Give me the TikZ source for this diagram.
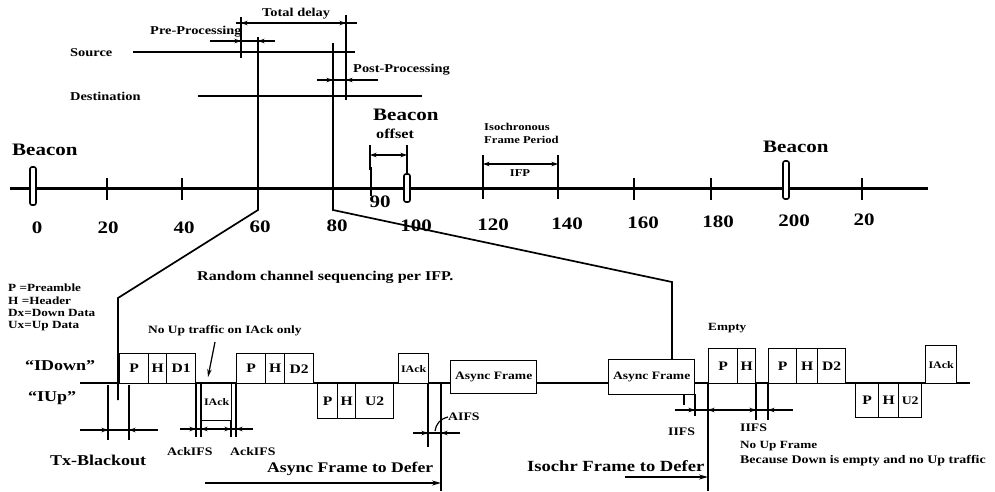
\documentclass[tikz,border=0pt]{standalone}
\usepackage{fontspec}
\setmainfont{Liberation Serif}[FakeStretch=1.2]
\usetikzlibrary{arrows.meta}
\newcommand{\fsz}[1]{\fontsize{#1}{#1}\selectfont}
\begin{document}
\begin{tikzpicture}[x=1pt,y=-1pt,
  txt/.style={inner sep=0pt, anchor=west, font=\bfseries\fsz{12}},
  num/.style={inner sep=0pt, font=\bfseries\fsz{17.5}},
  heavyline/.style={line width=2.4pt},
  medline/.style={line width=1.7pt},
  slim/.style={line width=1.2pt},
  dima/.style={line width=1.2pt, -{Stealth[length=6.5pt,width=4.5pt]}},
  dimb/.style={line width=1.2pt, {Stealth[length=6.5pt,width=4.5pt]}-{Stealth[length=6.5pt,width=4.5pt]}},
  defer/.style={line width=1.4pt, -{Stealth[open,length=9pt,width=5pt]}},
  cell/.style={draw, line width=1.4pt, fill=white, inner sep=0pt, anchor=north west, font=\bfseries\fsz{13}},
  smallcell/.style={cell, font=\bfseries\fsz{10}},
  asynccell/.style={cell, font=\bfseries\fsz{11.3}},
  beaconmark/.style={draw, line width=1.6pt, fill=white, rounded corners=2pt}
]
\useasboundingbox[fill=white] (0,0) rectangle (995,491);

% ---------------- top: delays ----------------
\draw[medline] (241,17) -- (241,58);
\draw[medline] (346,15) -- (346,100);
\draw[slim] (236,23) -- (357,23);
\draw[dimb] (241,23) -- (346,23);
\node[txt] (totaldelay) at (262,14) {Total delay};

\node[txt] (pre) at (150,32) {Pre-Processing};
\draw[slim] (210,41) -- (275,41);
\draw[dima] (214,41) -- (241,41);
\draw[dima] (275,41) -- (258,41);

\node[txt] (src) at (70,53) {Source};
\draw[heavyline] (133,52) -- (355,52);

\node[txt] (post) at (353,70) {Post-Processing};
\draw[slim] (317,80) -- (378,80);
\draw[dima] (317,80) -- (333,80);
\draw[dima] (368,80) -- (346,80);

\node[txt] (dst) at (70,96) {Destination};
\draw[heavyline] (198,96) -- (422,96);

% zoom connectors
\coordinate (zl1) at (258,210);
\coordinate (zl2) at (118,298);
\coordinate (zr1) at (333,210);
\coordinate (zr2) at (672,282);
\draw[medline] (258,37) -- (zl1) -- (zl2) -- (118,400);
\draw[medline] (333,43) -- (zr1) -- (zr2) -- (672,359);

% ---------------- timeline ----------------
\draw[line width=3pt] (10,188) -- (928,188);
\foreach \x in {107,182,634,711,862} \draw[medline] (\x,178) -- (\x,200);
\draw[medline] (483,155) -- (483,199);
\draw[medline] (558,155) -- (558,199);
\draw[dimb] (483,164) -- (558,164);
\node[inner sep=0pt, font=\bfseries\fsz{10.5}] (ifp) at (520,173) {IFP};
\node[txt, font=\bfseries\fsz{10.5}] (iso) at (484,127) {Isochronous};
\node[txt, font=\bfseries\fsz{10.5}] (fper) at (484,140) {Frame Period};

\draw[medline] (370,145) -- (370,170);
\draw[line width=2.8pt] (371,167) -- (371,196);
\draw[medline] (407,145) -- (407,176);
\draw[dimb] (370,155) -- (407,155);
\node[txt, font=\bfseries\fsz{17.5}] (bmid) at (373,115) {Beacon};
\node[txt, font=\bfseries\fsz{13.5}] (boff) at (376,134) {offset};

\draw[beaconmark] (30,167) rectangle (36,205);
\draw[beaconmark] (404,174) rectangle (410,202);
\draw[beaconmark] (783,161) rectangle (789,199);
\node[txt, font=\bfseries\fsz{17.5}] (bleft) at (12,150) {Beacon};
\node[txt, font=\bfseries\fsz{17.5}] (bright) at (763,147) {Beacon};

\node[num] (n0) at (37,228) {0};
\node[num] (n20) at (108,228) {20};
\node[num] (n40) at (184,228) {40};
\node[num] (n60) at (260,227) {60};
\node[num] (n80) at (337,226) {80};
\node[num] (n90) at (380,202) {90};
\node[num] (n100) at (416,226) {100};
\node[num] (n120) at (493,225) {120};
\node[num] (n140) at (567,224) {140};
\node[num] (n160) at (643,223) {160};
\node[num] (n180) at (718,222) {180};
\node[num] (n200) at (794,221) {200};
\node[num] (n20b) at (864,220) {20};

% ---------------- lower: channel detail ----------------
\node[txt, font=\bfseries\fsz{13.4}] (rcs) at (197,277) {Random channel sequencing per IFP.};
\node[txt, font=\bfseries\fsz{11}] (lg1) at (8,288) {P =Preamble};
\node[txt, font=\bfseries\fsz{11}] (lg2) at (8,301) {H =Header};
\node[txt, font=\bfseries\fsz{11}] (lg3) at (8,313) {Dx=Down Data};
\node[txt, font=\bfseries\fsz{11}] (lg4) at (8,326) {Ux=Up Data};

\node[txt, font=\bfseries\fsz{11.2}] (nout) at (148,331) {No Up traffic on IAck only};
\draw[slim, -{Stealth[open,length=8pt,width=4.5pt]}] (215,342) -- (208,377);

\node[txt, font=\bfseries\fsz{15}] (idown) at (25,366) {``IDown''};
\node[txt, font=\bfseries\fsz{15}] (iup) at (28,398) {``IUp''};

\draw[heavyline] (80,383) -- (970,383);

% timing verticals (behind boxes)
\draw[medline] (108,385) -- (108,440);
\draw[medline] (129,385) -- (129,440);
\draw[medline] (196,383) -- (196,437);
\draw[medline] (201,383) -- (201,437);
\draw[medline] (231,383) -- (231,437);
\draw[medline] (236,383) -- (236,437);
\draw[medline] (428,383) -- (428,447);
\draw[medline] (441,383) -- (441,491);
\draw[medline] (684,394) -- (684,405);
\draw[medline] (695,394) -- (695,416);
\draw[medline] (708,383) -- (708,491);
\draw[medline] (756,383) -- (756,420);
\draw[medline] (768,383) -- (768,420);

% IDown boxes
\node[cell, minimum width=29pt, minimum height=30pt] (p1) at (119,353) {P};
\node[cell, minimum width=18pt, minimum height=30pt] (h1) at (148,353) {H};
\node[cell, minimum width=29pt, minimum height=30pt] (d1) at (166,353) {D1};
\node[cell, minimum width=29pt, minimum height=30pt] (p2) at (236,353) {P};
\node[cell, minimum width=19pt, minimum height=30pt] (h2) at (265,353) {H};
\node[cell, minimum width=29pt, minimum height=30pt] (d2) at (284,353) {D2};
\node[smallcell, minimum width=30pt, minimum height=30pt] (iack1) at (398,353) {IAck};
\node[asynccell, minimum width=86pt, minimum height=33pt] (as1) at (450,360) {Async Frame};
\node[asynccell, minimum width=86pt, minimum height=35pt] (as2) at (608,359) {Async Frame};
\node[cell, minimum width=29pt, minimum height=35pt] (pe) at (708,348) {P};
\node[cell, minimum width=18pt, minimum height=35pt] (he) at (737,348) {H};
\node[txt, font=\bfseries\fsz{11}] (empty) at (708,328) {Empty};
\node[cell, minimum width=28pt, minimum height=35pt] (p3) at (768,348) {P};
\node[cell, minimum width=21pt, minimum height=35pt] (h3) at (796,348) {H};
\node[cell, minimum width=28pt, minimum height=35pt] (d3) at (817,348) {D2};
\node[smallcell, minimum width=31pt, minimum height=38pt] (iack3) at (925,345) {IAck};

% IUp boxes
\node[smallcell, minimum width=30pt, minimum height=37pt] (iack2) at (201,383) {IAck};
\node[cell, minimum width=20pt, minimum height=35pt] (pu1) at (317,383) {P};
\node[cell, minimum width=18pt, minimum height=35pt] (hu1) at (337,383) {H};
\node[cell, minimum width=38pt, minimum height=35pt] (u1) at (355,383) {U2};
\node[cell, minimum width=23pt, minimum height=34pt] (pu2) at (855,383) {P};
\node[cell, minimum width=20pt, minimum height=34pt] (hu2) at (878,383) {H};
\node[cell, minimum width=23pt, minimum height=34pt, font=\bfseries\fsz{11.5}] (u2) at (898,383) {U2};

% interval arrows
\draw[slim] (80,430) -- (158,430);
\draw[dima] (84,430) -- (108,430);
\draw[dima] (155,430) -- (129,430);
\node[txt, font=\bfseries\fsz{15}] (txb) at (50,460) {Tx-Blackout};

\draw[slim] (180,429) -- (253,429);
\draw[dima] (182,429) -- (196,429);
\draw[dima] (216,429) -- (201,429);
\draw[dima] (216,429) -- (231,429);
\draw[dima] (251,429) -- (236,429);
\node[txt, font=\bfseries\fsz{11.5}] (ack1) at (167,452) {AckIFS};
\node[txt, font=\bfseries\fsz{11.5}] (ack2) at (230,452) {AckIFS};

\draw[slim] (413,433) -- (460,433);
\draw[dima] (413,433) -- (428,433);
\draw[dima] (458,433) -- (441,433);
\node[txt, font=\bfseries\fsz{11.5}] (aifs) at (448,417) {AIFS};
\draw[slim] (aifs.west) .. controls (440,419) and (436,424) .. (435,431);

\node[txt, font=\bfseries\fsz{14.7}] (afd) at (267,469) {Async Frame to Defer};
\draw[defer] (205,483) -- (441,483);

\draw[slim] (675,410) -- (793,410);
\draw[dima] (677,410) -- (695,410);
\draw[dima] (728,410) -- (708,410);
\draw[dima] (736,410) -- (756,410);
\draw[dima] (790,410) -- (768,410);
\node[txt, font=\bfseries\fsz{11.5}] (iifs1) at (668,432) {IIFS};
\node[txt, font=\bfseries\fsz{11.5}] (iifs2) at (740,428) {IIFS};
\node[txt, font=\bfseries\fsz{11}] (nuf) at (740,446) {No Up Frame};
\node[txt, font=\bfseries\fsz{11.6}] (because) at (740,461) {Because Down is empty and no Up traffic};

\node[txt, font=\bfseries\fsz{15.5}] (ifd) at (527,466) {Isochr Frame to Defer};
\draw[defer] (625,477) -- (708,477);
\end{tikzpicture}
\end{document}
